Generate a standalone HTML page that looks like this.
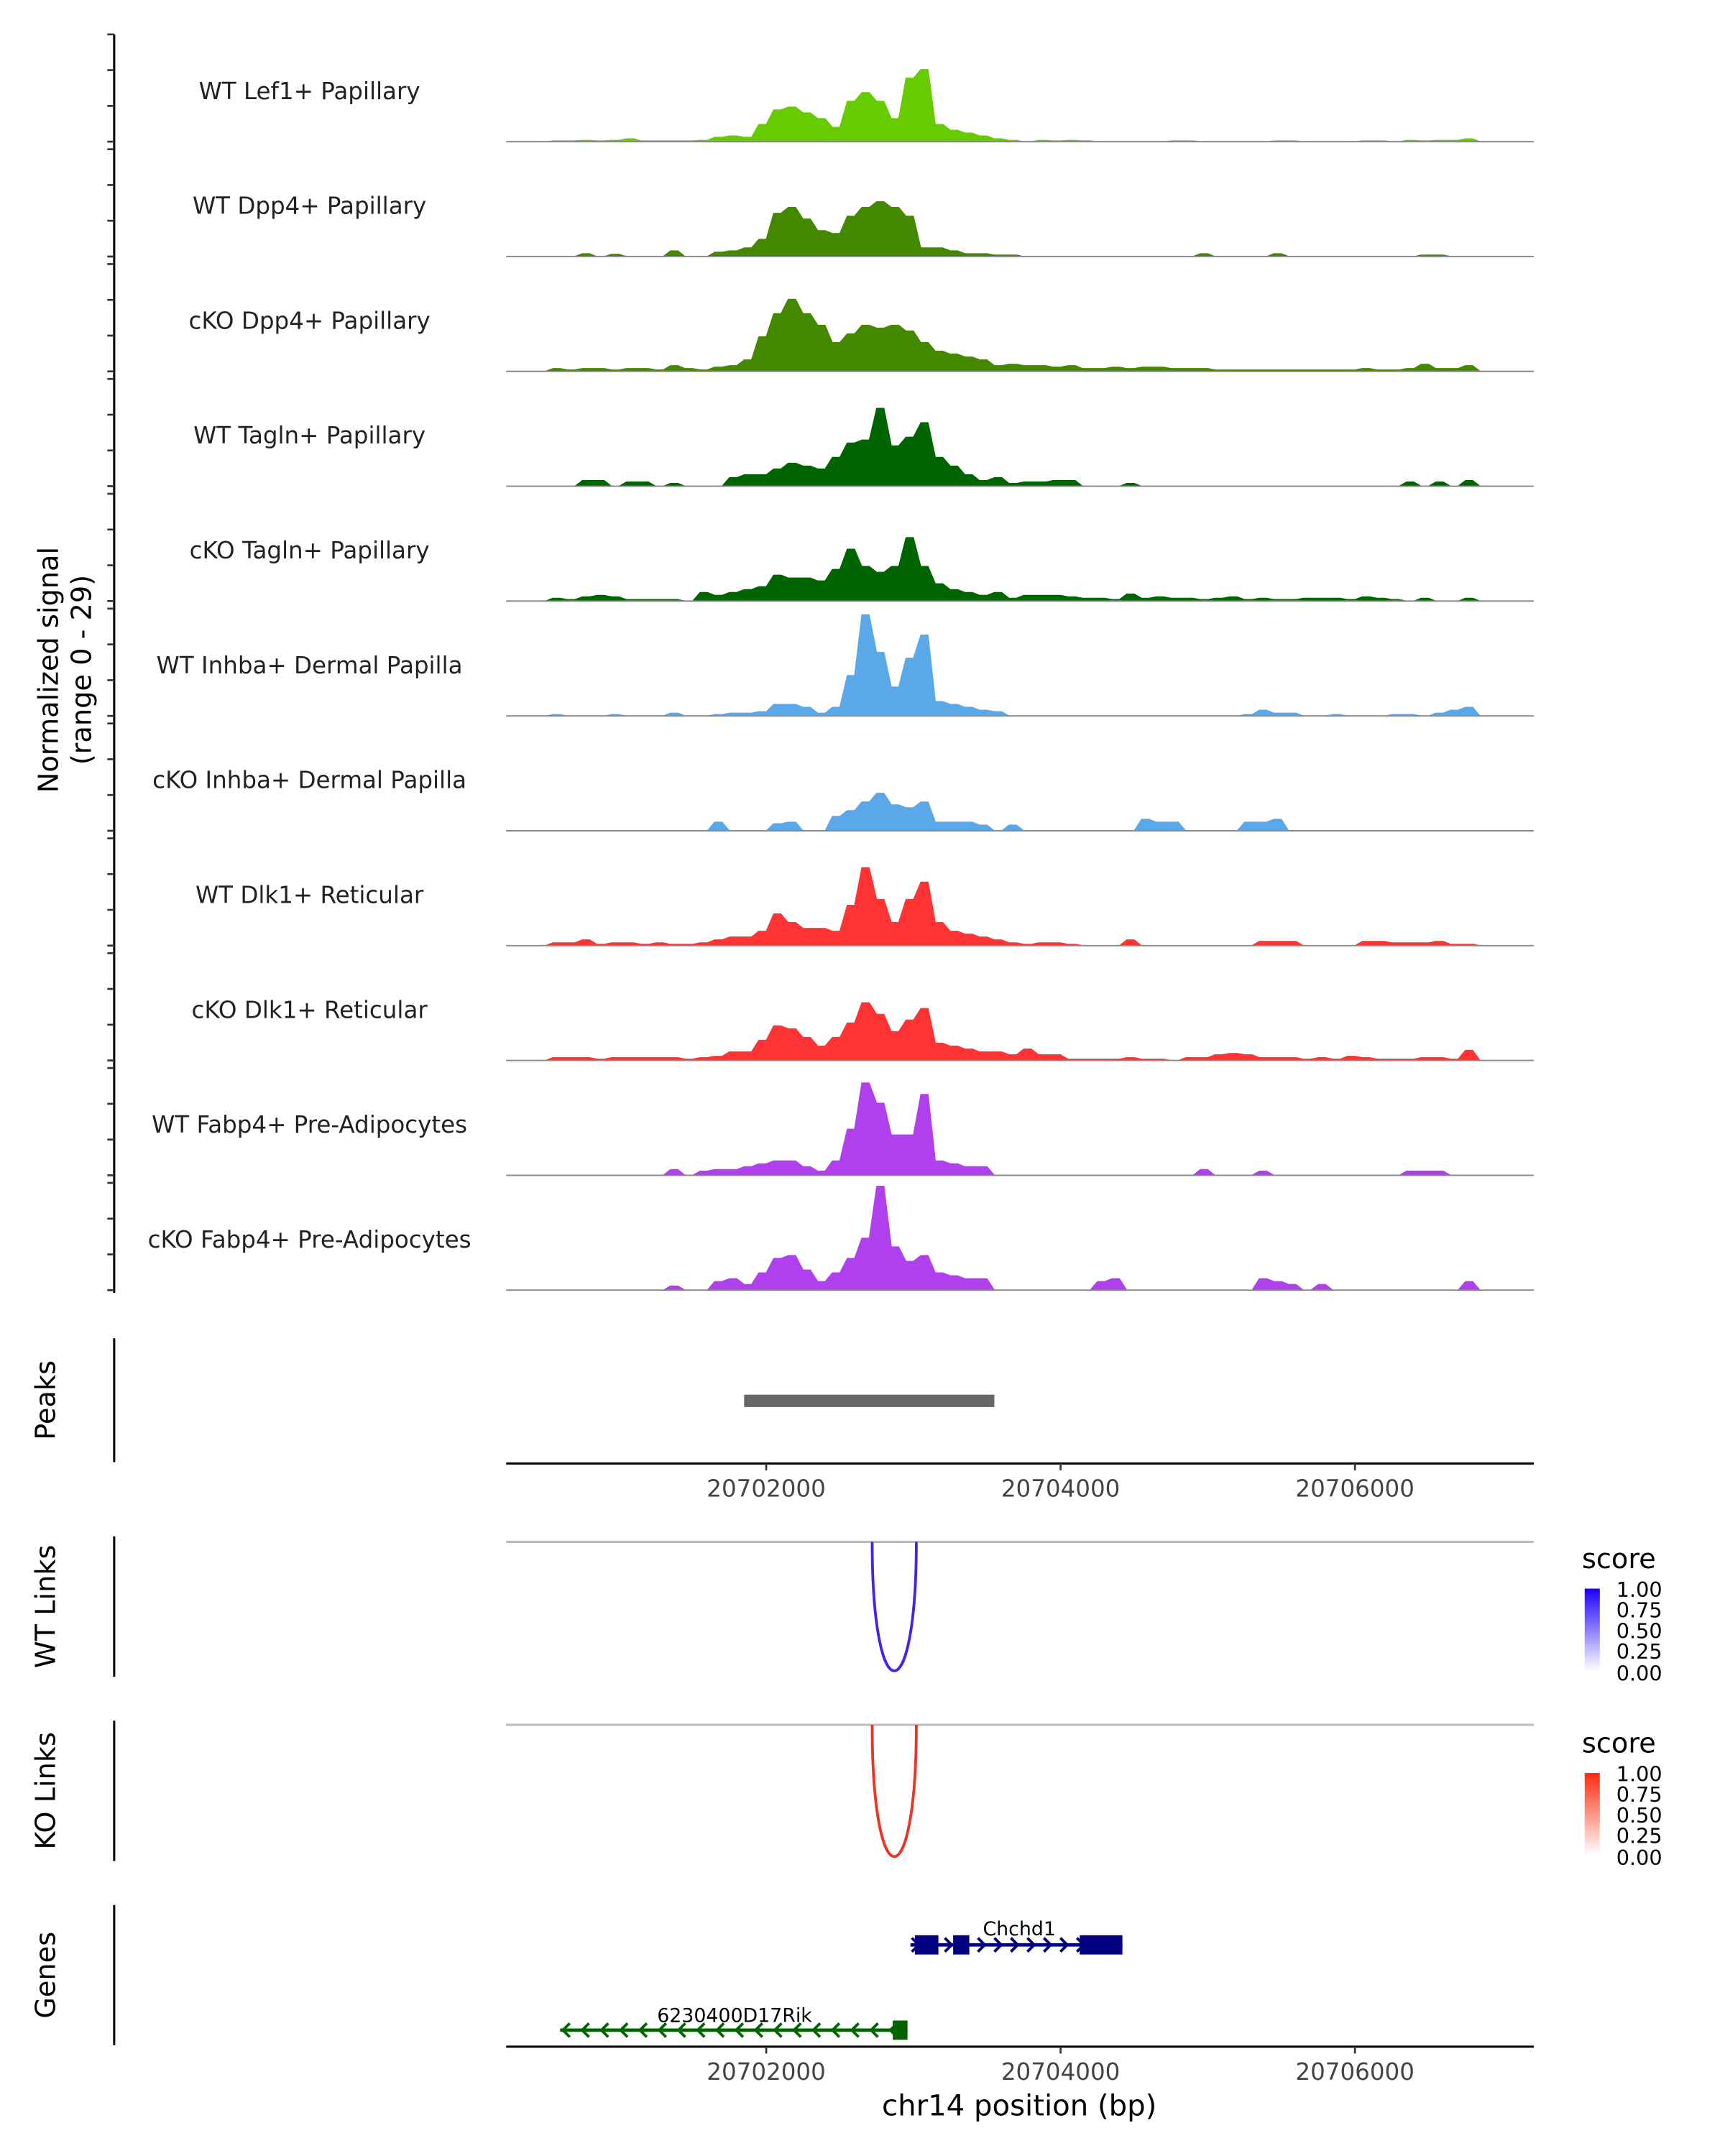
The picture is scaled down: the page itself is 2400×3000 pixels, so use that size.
<!DOCTYPE html>
<html><head><meta charset="utf-8"><style>html,body{margin:0;padding:0;background:#fff}svg{display:block}text{font-family:"DejaVu Sans","Liberation Sans",sans-serif}</style></head>
<body>
<svg id="chart" xmlns="http://www.w3.org/2000/svg" width="2400" height="3000" viewBox="0 0 1254 1567.5">
<g id="static">
  <text transform="translate(42,487) rotate(-90)" text-anchor="middle" font-size="20" fill="#000">Normalized signal</text>
  <text transform="translate(66,487) rotate(-90)" text-anchor="middle" font-size="20" fill="#000">(range 0 - 29)</text>
  <line x1="83" y1="25" x2="83" y2="940" stroke="#000" stroke-width="1.6"/>
  <text transform="translate(40,1018) rotate(-90)" text-anchor="middle" font-size="20">Peaks</text>
  <line x1="83" y1="973" x2="83" y2="1063" stroke="#000" stroke-width="1.6"/>
  <line x1="368" y1="1064" x2="1115" y2="1064" stroke="#000" stroke-width="1.6"/>
  <text transform="translate(40,1168) rotate(-90)" text-anchor="middle" font-size="20">WT Links</text>
  <line x1="83" y1="1117" x2="83" y2="1219" stroke="#000" stroke-width="1.6"/>
  <line x1="368" y1="1121" x2="1115" y2="1121" stroke="#bbb" stroke-width="1.6"/>
  <text transform="translate(40,1302) rotate(-90)" text-anchor="middle" font-size="20">KO Links</text>
  <line x1="83" y1="1251" x2="83" y2="1353" stroke="#000" stroke-width="1.6"/>
  <line x1="368" y1="1254" x2="1115" y2="1254" stroke="#bbb" stroke-width="1.6"/>
  <text transform="translate(40,1436) rotate(-90)" text-anchor="middle" font-size="20">Genes</text>
  <line x1="83" y1="1385" x2="83" y2="1487" stroke="#000" stroke-width="1.6"/>
  <line x1="368" y1="1488" x2="1115" y2="1488" stroke="#000" stroke-width="1.6"/>
  <text x="741" y="1538" text-anchor="middle" font-size="21">chr14 position (bp)</text>
  <defs>
    <linearGradient id="gB" x1="0" y1="1" x2="0" y2="0"><stop offset="0" stop-color="#fff"/><stop offset="1" stop-color="#1a00ff"/></linearGradient>
    <linearGradient id="gR" x1="0" y1="1" x2="0" y2="0"><stop offset="0" stop-color="#fff"/><stop offset="1" stop-color="#ff2a10"/></linearGradient>
  </defs>
  <g>
    <text x="1150" y="1140" font-size="20">score</text>
    <rect x="1152" y="1155" width="11" height="60" fill="url(#gB)"/>
    <text x="1175" y="1161" font-size="15">1.00</text><text x="1175" y="1176" font-size="15">0.75</text><text x="1175" y="1191" font-size="15">0.50</text><text x="1175" y="1206" font-size="15">0.25</text><text x="1175" y="1222" font-size="15">0.00</text>
  </g>
  <g>
    <text x="1150" y="1274" font-size="20">score</text>
    <rect x="1152" y="1289" width="11" height="60" fill="url(#gR)"/>
    <text x="1175" y="1295" font-size="15">1.00</text><text x="1175" y="1310" font-size="15">0.75</text><text x="1175" y="1325" font-size="15">0.50</text><text x="1175" y="1340" font-size="15">0.25</text><text x="1175" y="1356" font-size="15">0.00</text>
  </g>
</g>
<g id="dyn"></g>
</svg>
<script>
const trackNames = ["WT Lef1+ Papillary","WT Dpp4+ Papillary","cKO Dpp4+ Papillary","WT Tagln+ Papillary","cKO Tagln+ Papillary","WT Inhba+ Dermal Papilla","cKO Inhba+ Dermal Papilla","WT Dlk1+ Reticular","cKO Dlk1+ Reticular","WT Fabp4+ Pre-Adipocytes","cKO Fabp4+ Pre-Adipocytes"];
const trackColors = ["#66cc00","#448800","#448800","#006400","#006400","#5aa8e8","#5aa8e8","#ff3333","#ff3333","#b040ee","#b040ee"];
const binStart = 20700450;
const binSize = 100;
const sigLef1WT = [0,0.3,0.3,0.5,0.3,0.5,1,0.3,0.3,0.3,0.3,0.5,1.5,2,1.5,6,11,12,10,8,5,14,17,14,8,22,25,6,4,3,2,1,0.5,0,0.5,0.3,0.5,0.3,0,0,0,0,0,0.3,0.3,0,0,0,0,0,0.3,0.3,0,0,0,0,0.3,0.3,0,0.5,0.3,0.5,0.5,1];
const sigDpp4WT = [0,0,0,1,0,0.8,0,0,0,2,0,0,1.5,2,3,6,15,17,13,9,8,14,17,19,17,14,3,3,2,1,1,0.5,0.5,0,0,0,0,0,0,0,0,0,0,0,0,1,0,0,0,0,1,0,0,0,0,0,0,0,0,0,0.5,0.5,0,0];
const sigDpp4KO = [0,1,0.5,1,1,0.5,1,1,0.5,2,1,0.5,1.5,2,4,12,20,25,20,16,10,13,16,15,16,14,10,7,6,5,4,2,2.5,2,2,1.5,2,1,1,1.5,1,1.5,1.5,1,1,1,0.5,0.5,0.5,0.5,0.5,0.5,0.5,0.5,0.5,0.5,1,0.5,0.5,1,2.5,1,1,2];
const sigTaglnWT = [0,0,0,2,2,0,1.5,1.5,0,1,0,0,0,3,4,4,6,8,7,6,10,15,16,27,14,17,22,10,7,4,2,3,1,1.5,1.5,2,2,0,0,0,1,0,0,0,0,0,0,0,0,0,0,0,0,0,0,0,0,0,0,1.5,0,1.5,0,2];
const sigTaglnKO = [0,1,0.5,1.5,2,1.5,0.5,0.5,0.5,0.5,0,3,2,3,4,5,9,8,8,7,11,18,12,10,12,22,12,6,4,3,2,3,1,2,2,2,1.5,1,1,0.5,2.5,1,1.5,1,1,0.5,1,1.5,0.5,1,0.5,0.5,1,1,1,0.5,1.5,1,0.5,0,1,0,0,1];
const sigInhbaWT = [0,0.5,0,0,0,0.5,0,0,0,1,0,0,0.5,1,1,1.5,4,4,3,1,3,14,35,22,10,20,28,5,4,3,2,1.5,0,0,0,0,0,0,0,0,0,0,0,0,0,0,0,0,0.5,2,1,1,0,0,0.5,0,0,0,0.5,0.5,0,1,2,3];
const sigInhbaKO = [0,0,0,0,0,0,0,0,0,0,0,0,3,0,0,0,2.5,3,0,0,5,7,10,13,9,8,10,3,3,3,2,0,2,0,0,0,0,0,0,0,0,4,3,3,0,0,0,0,3,3,4,0,0,0,0,0,0,0,0,0,0,0,0,0];
const sigDlk1WT = [0,1,1,2,0.5,1,1,0.5,1,0.5,0.5,1,2,3,3,5,11,8,6,6,5,14,27,16,8,16,22,8,5,4,3,2,1,0.5,1,1,0.5,0,0,0,2,0,0,0,0,0,0,0,0,1.5,1.5,1.5,0,0,0,0,1.5,1.5,1,1,1,1.5,0.5,0.5];
const sigDlk1KO = [0,1,1,1,0.5,1,1,1,1,1,0.5,1,1.5,3,3,7,12,11,8,5,8,13,20,16,10,14,18,6,5,4,3,3,2,4,2,2,0.5,0.5,0.5,0.5,1,0.5,0.5,0,1,1,2,2.5,2,1,1,1,0.5,1,0.5,1.5,1,0.5,0.5,0.5,1,1,0.5,3.5];
const sigFabp4WT = [0,0,0,0,0,0,0,0,0,2,0,1.5,2,2,3,4,5,5,3,1.5,5,16,32,25,14,14,28,5,4,3,3,0,0,0,0,0,0,0,0,0,0,0,0,0,0,2,0,0,0,1.5,0,0,0,0,0,0,0,0,0,1.5,1.5,1.5,0,0];
const sigFabp4KO = [0,0,0,0,0,0,0,0,0,1.5,0,0,3,4,2,6,11,12,7,3,6,11,18,36,15,10,12,6,5,4,4,0,0,0,0,0,0,0,3,4,0,0,0,0,0,0,0,0,0,4,3,2,0,2,0,0,0,0,0,0,0,0,0,3];
const signals = [sigLef1WT,sigDpp4WT,sigDpp4KO,sigTaglnWT,sigTaglnKO,sigInhbaWT,sigInhbaKO,sigDlk1WT,sigDlk1KO,sigFabp4WT,sigFabp4KO];
const xTicks = [20702000,20704000,20706000];
const xTickLabels = ["20702000","20704000","20706000"];
const peakRegions = [[20701850,20703550]];
const wtLinks = [[20702720,20703020,1.0]];
const koLinks = [[20702720,20703020,1.0]];
const chchd1Exons = [[20703010,20703170],[20703270,20703380],[20704130,20704420]];
const chchd1Span = [20702980,20704420];
const rikExons = [[20702860,20702960]];
const rikSpan = [20700600,20702960];

const NS="http://www.w3.org/2000/svg";
const dyn=document.getElementById('dyn');
function X(bp){return 557+(bp-20702000)*0.107;}
function Y(v,base){return base-v*2.1;}
function mk(tag,attrs,parent){const e=document.createElementNS(NS,tag);for(const k in attrs)e.setAttribute(k,attrs[k]);(parent||dyn).appendChild(e);return e;}

for(let i=0;i<11;i++){
  const base=103+83.5*i;
  for(let j=0;j<4;j++){
    const t=mk('line',{x1:78,x2:83,y1:base-j*26,y2:base-j*26,stroke:'#333','stroke-width':1.4});
    
    
  }
}
signals.forEach((arr,i)=>{
  const base=103+83.5*i;
  const lab=mk('text',{x:225,y:base-31,'text-anchor':'middle','font-size':17,fill:'#222'});
  lab.textContent=trackNames[i];
  
  
  let d='M'+X(binStart).toFixed(1)+','+base;
  arr.forEach((v,k)=>{
    const x0=X(binStart+k*binSize), x1=X(binStart+(k+1)*binSize);
    d+=' L'+x0.toFixed(1)+','+Y(v,base).toFixed(1)+' L'+((x0+x1)/2).toFixed(1)+','+Y(v,base).toFixed(1);
  });
  d+=' L'+X(binStart+arr.length*binSize).toFixed(1)+','+base+' Z';
  const p=mk('path',{d:d,fill:trackColors[i],stroke:trackColors[i],'stroke-width':0.6,'stroke-linejoin':'round'});
  
  
  const bl=mk('line',{x1:368,x2:1115,y1:base,y2:base,stroke:'#888','stroke-width':1});
  
  
});
peakRegions.forEach(r=>{
  const b=mk('rect',{x:X(r[0]),y:1014,width:X(r[1])-X(r[0]),height:9,fill:'#666'});
  
  
});
[1064,1488].forEach(ay=>{
  xTicks.forEach((t,i)=>{
    const tk=mk('line',{x1:X(t),x2:X(t),y1:ay,y2:ay+5,stroke:'#333','stroke-width':1.4});
    
    
    const tl=mk('text',{x:X(t),y:ay+24,'text-anchor':'middle','font-size':17,fill:'#444'});
    tl.textContent=xTickLabels[i];
    
    
  });
});
function arc(l,base,depth,color){
  const x0=X(l[0]),x1=X(l[1]);
  const d='M'+x0+','+base+' C'+x0+','+(base+depth*1.33)+' '+x1+','+(base+depth*1.33)+' '+x1+','+base;
  const a=mk('path',{d:d,fill:'none',stroke:color,'stroke-width':2});
  
  
}
wtLinks.forEach(l=>arc(l,1121,94,'#4422ee'));
koLinks.forEach(l=>arc(l,1254,96,'#ee3322'));
function gene(span,exons,y,color,dir,name,lx,ly){
  const g=mk('g',{});
  
  
  mk('line',{x1:X(span[0]),x2:X(span[1]),y1:y,y2:y,stroke:color,'stroke-width':2.5},g);
  const step=dir>0?12:14;
  const n=Math.floor((X(span[1])-X(span[0]))/step);
  for(let k=0;k<n;k++){
    const cx=X(span[0])+4+k*step;
    mk('path',{d:dir>0?`M${cx-3},${y-5} L${cx+2},${y} L${cx-3},${y+5}`:`M${cx+3},${y-5} L${cx-2},${y} L${cx+3},${y+5}`,fill:'none',stroke:color,'stroke-width':2},g);
  }
  exons.forEach(e=>mk('rect',{x:X(e[0]),y:y-7,width:X(e[1])-X(e[0]),height:14,fill:color},g));
  const t=mk('text',{x:lx,y:ly,'text-anchor':'middle','font-size':14},g);
  t.textContent=name;
}
gene(chchd1Span,chchd1Exons,1414,'#000080',1,'Chchd1',741,1407);
gene(rikSpan,rikExons,1476,'#006400',-1,'6230400D17Rik',534,1470);
</script>
</body></html>
